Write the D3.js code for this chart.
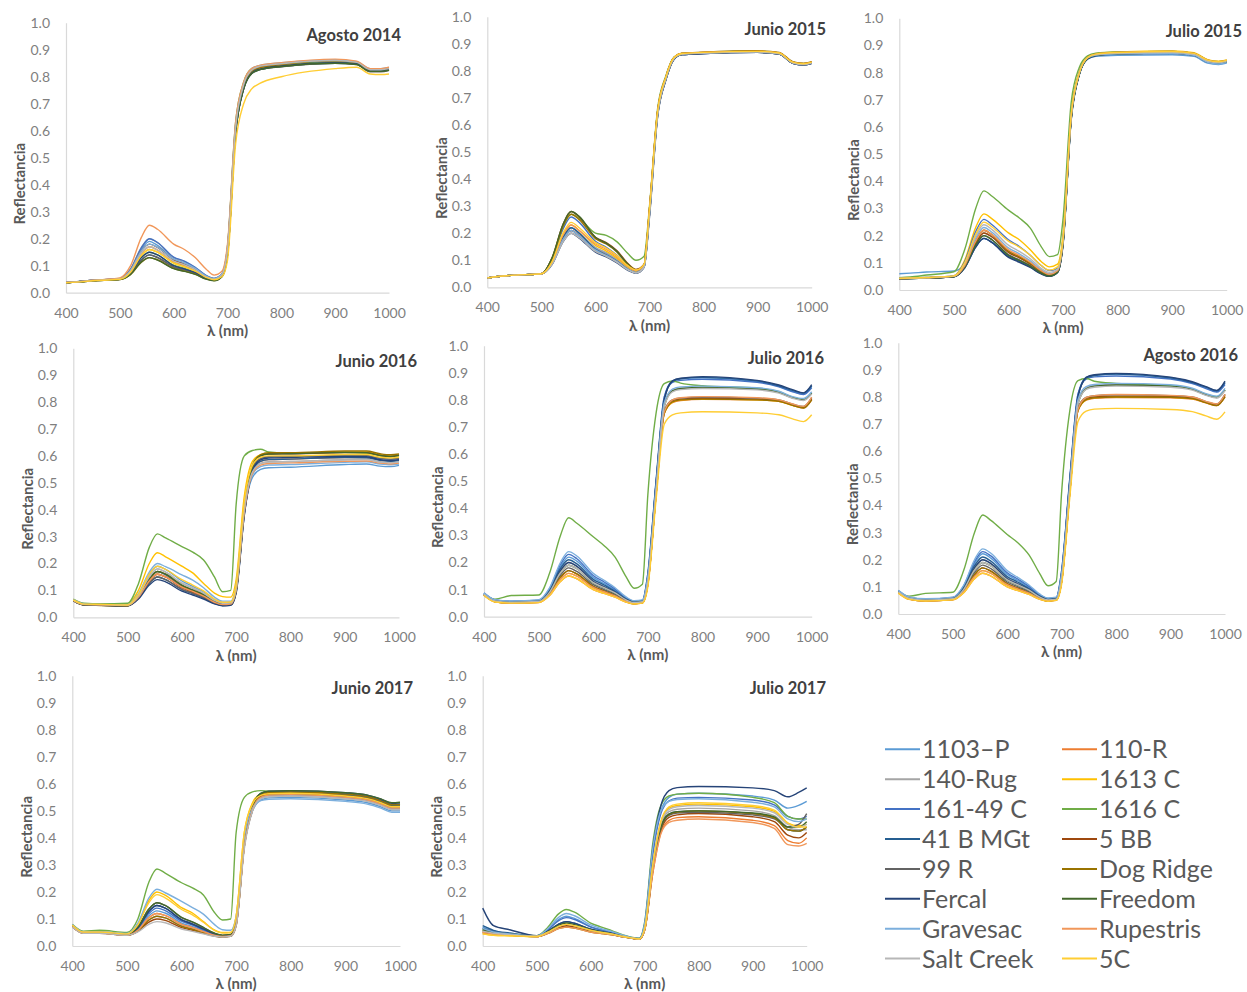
<!DOCTYPE html>
<html>
<head>
<meta charset="utf-8">
<script src="https://cdn.jsdelivr.net/npm/d3@7"></script>
<style>
  html, body { margin: 0; padding: 0; background: #ffffff; }
  svg { display: block; font-family: Lato, "Open Sans", sans-serif; }
</style>
</head>
<body>
<svg id="chart" width="1247" height="992"></svg>
<script>
// Wavelengths (nm) at which reflectance was sampled
const wavelengths = [400,420,450,500,520,540,555,570,600,620,640,660,675,690,700,715,730,745,760,800,900,940,965,985,1000];

// Rootstock varieties, in legend order
const varieties = ["1103\u2013P","110-R","140-Rug","1613 C","161-49 C","1616 C","41 B MGt","5 BB","99 R","Dog Ridge","Fercal","Freedom","Gravesac","Rupestris","Salt Creek","5C"];

const xTicks = [400,500,600,700,800,900,1000];
const yTicks = [0,0.1,0.2,0.3,0.4,0.5,0.6,0.7,0.8,0.9,1.0];

// Reflectance per variety (rows follow the varieties order)
const agosto2014 = [
  [0.038,0.04,0.046,0.052,0.085,0.16,0.19,0.175,0.125,0.11,0.09,0.062,0.052,0.07,0.16,0.61,0.77,0.825,0.838,0.848,0.86,0.853,0.825,0.826,0.83],
  [0.037,0.04,0.045,0.051,0.08,0.145,0.17,0.158,0.115,0.1,0.083,0.058,0.05,0.068,0.16,0.6,0.765,0.82,0.835,0.845,0.855,0.85,0.823,0.824,0.828],
  [0.038,0.041,0.046,0.053,0.088,0.168,0.2,0.185,0.13,0.115,0.093,0.064,0.053,0.07,0.17,0.62,0.775,0.828,0.84,0.85,0.86,0.854,0.828,0.828,0.832],
  [0.037,0.04,0.045,0.051,0.078,0.138,0.16,0.15,0.11,0.096,0.08,0.057,0.049,0.066,0.15,0.6,0.76,0.818,0.832,0.842,0.855,0.848,0.82,0.82,0.826],
  [0.038,0.041,0.046,0.052,0.087,0.166,0.2,0.186,0.132,0.117,0.094,0.064,0.053,0.07,0.16,0.61,0.77,0.825,0.838,0.847,0.858,0.852,0.826,0.827,0.83],
  [0.037,0.04,0.045,0.05,0.075,0.13,0.15,0.14,0.102,0.09,0.076,0.055,0.048,0.065,0.17,0.63,0.78,0.83,0.84,0.847,0.855,0.85,0.824,0.824,0.83],
  [0.037,0.039,0.044,0.05,0.072,0.122,0.14,0.13,0.095,0.084,0.072,0.053,0.046,0.062,0.14,0.59,0.755,0.812,0.826,0.838,0.85,0.846,0.82,0.82,0.825],
  [0.038,0.04,0.046,0.052,0.083,0.155,0.18,0.168,0.122,0.107,0.088,0.06,0.051,0.068,0.16,0.61,0.77,0.824,0.837,0.848,0.86,0.853,0.826,0.826,0.83],
  [0.037,0.039,0.044,0.05,0.071,0.12,0.14,0.131,0.096,0.085,0.073,0.053,0.046,0.062,0.14,0.59,0.755,0.812,0.826,0.837,0.85,0.845,0.818,0.818,0.824],
  [0.037,0.039,0.044,0.049,0.068,0.113,0.13,0.122,0.09,0.08,0.069,0.051,0.045,0.06,0.14,0.6,0.765,0.82,0.833,0.845,0.86,0.853,0.826,0.826,0.83],
  [0.037,0.04,0.045,0.05,0.074,0.13,0.15,0.14,0.1,0.088,0.075,0.054,0.047,0.063,0.14,0.59,0.755,0.814,0.828,0.84,0.852,0.847,0.822,0.822,0.826],
  [0.037,0.039,0.044,0.049,0.068,0.114,0.13,0.121,0.089,0.079,0.068,0.05,0.044,0.06,0.14,0.59,0.755,0.812,0.826,0.838,0.85,0.845,0.82,0.82,0.824],
  [0.038,0.04,0.046,0.052,0.083,0.155,0.18,0.168,0.124,0.11,0.09,0.062,0.052,0.07,0.17,0.62,0.775,0.83,0.842,0.852,0.862,0.856,0.83,0.83,0.834],
  [0.038,0.04,0.046,0.055,0.1,0.205,0.25,0.235,0.18,0.16,0.13,0.088,0.065,0.08,0.18,0.63,0.78,0.83,0.842,0.852,0.865,0.857,0.83,0.83,0.835],
  [0.038,0.04,0.045,0.051,0.08,0.147,0.17,0.158,0.117,0.103,0.085,0.059,0.05,0.068,0.16,0.61,0.77,0.824,0.838,0.848,0.86,0.853,0.826,0.826,0.83],
  [0.037,0.039,0.044,0.05,0.076,0.138,0.16,0.15,0.11,0.096,0.08,0.057,0.048,0.06,0.12,0.55,0.7,0.755,0.775,0.8,0.83,0.835,0.81,0.808,0.81]
];

const junio2015 = [
  [0.035,0.04,0.045,0.05,0.09,0.185,0.22,0.2,0.145,0.125,0.1,0.07,0.056,0.08,0.28,0.64,0.77,0.845,0.862,0.866,0.87,0.865,0.83,0.824,0.83],
  [0.035,0.04,0.045,0.05,0.088,0.178,0.21,0.192,0.14,0.12,0.097,0.068,0.055,0.078,0.27,0.64,0.77,0.845,0.862,0.866,0.872,0.866,0.832,0.826,0.832],
  [0.035,0.04,0.045,0.05,0.09,0.185,0.22,0.2,0.148,0.128,0.103,0.072,0.057,0.08,0.28,0.645,0.775,0.846,0.862,0.866,0.87,0.864,0.83,0.824,0.83],
  [0.035,0.04,0.045,0.05,0.092,0.192,0.23,0.21,0.155,0.134,0.108,0.075,0.06,0.082,0.29,0.65,0.775,0.848,0.864,0.868,0.872,0.866,0.832,0.826,0.832],
  [0.035,0.04,0.045,0.05,0.1,0.215,0.26,0.24,0.17,0.148,0.118,0.08,0.062,0.082,0.28,0.64,0.77,0.845,0.86,0.864,0.868,0.862,0.828,0.822,0.828],
  [0.035,0.04,0.045,0.05,0.105,0.225,0.27,0.255,0.2,0.192,0.168,0.125,0.1,0.115,0.3,0.66,0.78,0.85,0.864,0.867,0.87,0.864,0.83,0.824,0.83],
  [0.035,0.04,0.045,0.05,0.09,0.184,0.22,0.2,0.14,0.12,0.096,0.066,0.054,0.076,0.27,0.635,0.765,0.842,0.86,0.864,0.868,0.862,0.828,0.822,0.828],
  [0.035,0.04,0.045,0.05,0.11,0.232,0.28,0.26,0.185,0.165,0.135,0.088,0.066,0.085,0.29,0.65,0.775,0.848,0.864,0.868,0.872,0.866,0.832,0.826,0.832],
  [0.035,0.04,0.045,0.05,0.088,0.176,0.21,0.19,0.135,0.116,0.094,0.065,0.053,0.075,0.27,0.635,0.765,0.842,0.86,0.864,0.868,0.862,0.828,0.822,0.828],
  [0.035,0.04,0.045,0.05,0.107,0.225,0.27,0.25,0.18,0.16,0.13,0.085,0.065,0.084,0.29,0.65,0.775,0.848,0.865,0.869,0.874,0.868,0.834,0.828,0.834],
  [0.035,0.04,0.045,0.05,0.085,0.168,0.2,0.182,0.13,0.112,0.09,0.063,0.052,0.074,0.26,0.63,0.765,0.842,0.86,0.864,0.868,0.862,0.828,0.822,0.828],
  [0.035,0.04,0.045,0.05,0.11,0.232,0.28,0.262,0.185,0.163,0.132,0.085,0.063,0.082,0.28,0.645,0.77,0.846,0.862,0.866,0.87,0.864,0.83,0.824,0.83],
  [0.035,0.04,0.045,0.05,0.088,0.176,0.21,0.19,0.138,0.118,0.095,0.066,0.054,0.076,0.27,0.64,0.77,0.845,0.862,0.866,0.87,0.864,0.83,0.824,0.83],
  [0.035,0.04,0.045,0.05,0.093,0.193,0.23,0.21,0.16,0.14,0.113,0.078,0.062,0.083,0.29,0.65,0.775,0.848,0.864,0.868,0.872,0.866,0.832,0.826,0.832],
  [0.035,0.04,0.045,0.05,0.086,0.168,0.2,0.183,0.133,0.114,0.092,0.064,0.053,0.075,0.27,0.635,0.768,0.844,0.861,0.865,0.869,0.863,0.829,0.823,0.829],
  [0.035,0.04,0.045,0.05,0.095,0.2,0.24,0.22,0.165,0.145,0.117,0.08,0.064,0.085,0.29,0.65,0.775,0.848,0.864,0.868,0.872,0.866,0.832,0.826,0.832]
];

const julio2015 = [
  [0.06,0.062,0.066,0.07,0.095,0.165,0.19,0.175,0.125,0.107,0.087,0.062,0.052,0.066,0.17,0.63,0.795,0.85,0.86,0.864,0.866,0.86,0.835,0.83,0.835],
  [0.042,0.043,0.045,0.05,0.09,0.18,0.22,0.203,0.145,0.124,0.1,0.07,0.057,0.07,0.18,0.64,0.8,0.855,0.866,0.872,0.875,0.868,0.843,0.838,0.843],
  [0.042,0.043,0.045,0.05,0.088,0.172,0.21,0.195,0.14,0.12,0.097,0.068,0.056,0.07,0.18,0.64,0.8,0.855,0.866,0.871,0.874,0.867,0.842,0.837,0.842],
  [0.043,0.044,0.046,0.052,0.11,0.23,0.28,0.262,0.21,0.185,0.148,0.105,0.085,0.095,0.2,0.65,0.805,0.858,0.87,0.876,0.88,0.873,0.848,0.842,0.847],
  [0.043,0.044,0.046,0.052,0.105,0.215,0.26,0.24,0.185,0.16,0.128,0.09,0.072,0.08,0.19,0.645,0.8,0.855,0.868,0.873,0.876,0.869,0.844,0.838,0.843],
  [0.045,0.048,0.055,0.067,0.15,0.3,0.365,0.345,0.294,0.265,0.228,0.16,0.123,0.13,0.26,0.69,0.82,0.862,0.872,0.876,0.878,0.871,0.846,0.84,0.845],
  [0.041,0.042,0.044,0.049,0.082,0.158,0.19,0.175,0.123,0.105,0.085,0.06,0.05,0.064,0.17,0.63,0.795,0.852,0.864,0.869,0.872,0.865,0.84,0.835,0.84],
  [0.042,0.043,0.045,0.05,0.088,0.172,0.21,0.195,0.138,0.118,0.095,0.066,0.055,0.068,0.175,0.635,0.798,0.853,0.865,0.87,0.873,0.866,0.841,0.836,0.841],
  [0.041,0.042,0.044,0.049,0.085,0.165,0.2,0.184,0.13,0.111,0.09,0.063,0.052,0.066,0.17,0.63,0.795,0.852,0.864,0.869,0.872,0.865,0.84,0.835,0.84],
  [0.042,0.043,0.045,0.05,0.09,0.18,0.22,0.203,0.143,0.122,0.099,0.069,0.056,0.07,0.18,0.64,0.8,0.856,0.868,0.874,0.878,0.871,0.846,0.84,0.845],
  [0.041,0.042,0.044,0.049,0.082,0.158,0.19,0.174,0.12,0.102,0.083,0.059,0.05,0.064,0.165,0.625,0.793,0.85,0.862,0.868,0.871,0.864,0.839,0.834,0.839],
  [0.041,0.042,0.044,0.049,0.085,0.166,0.2,0.185,0.128,0.109,0.088,0.062,0.051,0.065,0.17,0.63,0.795,0.852,0.864,0.869,0.872,0.865,0.84,0.835,0.84],
  [0.043,0.044,0.046,0.051,0.095,0.19,0.23,0.212,0.155,0.133,0.107,0.075,0.06,0.073,0.18,0.64,0.8,0.854,0.865,0.869,0.871,0.864,0.838,0.832,0.837],
  [0.042,0.043,0.045,0.05,0.09,0.18,0.22,0.204,0.148,0.127,0.102,0.071,0.058,0.071,0.18,0.64,0.8,0.856,0.868,0.874,0.878,0.871,0.846,0.84,0.845],
  [0.042,0.043,0.045,0.051,0.098,0.198,0.24,0.222,0.165,0.142,0.115,0.08,0.065,0.076,0.185,0.64,0.8,0.855,0.866,0.871,0.874,0.867,0.842,0.837,0.842],
  [0.043,0.044,0.046,0.052,0.1,0.205,0.25,0.232,0.18,0.158,0.128,0.09,0.073,0.085,0.19,0.645,0.8,0.856,0.868,0.874,0.878,0.871,0.846,0.84,0.845]
];

const junio2016 = [
  [0.065,0.05,0.048,0.047,0.085,0.16,0.19,0.178,0.135,0.115,0.095,0.066,0.054,0.055,0.11,0.39,0.52,0.55,0.556,0.558,0.568,0.57,0.562,0.56,0.565],
  [0.062,0.047,0.046,0.044,0.074,0.135,0.16,0.15,0.11,0.094,0.077,0.055,0.046,0.048,0.1,0.39,0.54,0.58,0.586,0.588,0.594,0.594,0.585,0.582,0.585],
  [0.064,0.048,0.047,0.045,0.08,0.15,0.18,0.168,0.126,0.108,0.088,0.062,0.051,0.052,0.105,0.4,0.54,0.572,0.578,0.579,0.586,0.587,0.578,0.575,0.578],
  [0.066,0.05,0.05,0.05,0.1,0.2,0.24,0.225,0.19,0.165,0.126,0.09,0.077,0.075,0.14,0.45,0.58,0.605,0.61,0.61,0.615,0.615,0.605,0.6,0.603],
  [0.063,0.048,0.046,0.045,0.077,0.143,0.17,0.158,0.116,0.099,0.081,0.057,0.048,0.05,0.1,0.39,0.55,0.59,0.597,0.598,0.602,0.6,0.59,0.587,0.59],
  [0.068,0.052,0.05,0.052,0.125,0.26,0.31,0.295,0.263,0.242,0.213,0.15,0.095,0.1,0.42,0.6,0.62,0.625,0.615,0.61,0.612,0.61,0.6,0.597,0.6],
  [0.062,0.046,0.045,0.044,0.071,0.127,0.15,0.14,0.103,0.088,0.072,0.052,0.044,0.046,0.095,0.38,0.54,0.58,0.586,0.588,0.594,0.593,0.584,0.58,0.584],
  [0.062,0.046,0.045,0.043,0.073,0.135,0.16,0.15,0.11,0.094,0.077,0.055,0.046,0.047,0.1,0.4,0.56,0.6,0.607,0.608,0.612,0.612,0.602,0.598,0.602],
  [0.062,0.046,0.045,0.043,0.071,0.127,0.15,0.14,0.104,0.089,0.073,0.052,0.044,0.046,0.095,0.385,0.548,0.59,0.597,0.598,0.603,0.602,0.592,0.588,0.592],
  [0.063,0.046,0.044,0.042,0.076,0.143,0.17,0.16,0.118,0.1,0.082,0.058,0.048,0.049,0.1,0.4,0.565,0.605,0.612,0.612,0.618,0.618,0.608,0.604,0.607],
  [0.062,0.046,0.045,0.043,0.068,0.12,0.14,0.132,0.097,0.083,0.068,0.05,0.043,0.045,0.09,0.38,0.545,0.585,0.592,0.594,0.598,0.597,0.586,0.582,0.586],
  [0.063,0.047,0.046,0.044,0.076,0.143,0.17,0.16,0.12,0.102,0.084,0.06,0.049,0.05,0.1,0.4,0.56,0.6,0.607,0.608,0.613,0.612,0.602,0.598,0.602],
  [0.066,0.05,0.048,0.047,0.088,0.168,0.2,0.188,0.158,0.138,0.11,0.075,0.06,0.06,0.12,0.41,0.53,0.56,0.566,0.568,0.576,0.578,0.57,0.567,0.57],
  [0.063,0.047,0.046,0.044,0.074,0.135,0.16,0.15,0.112,0.096,0.079,0.056,0.047,0.049,0.1,0.39,0.535,0.566,0.572,0.574,0.58,0.581,0.573,0.57,0.573],
  [0.064,0.048,0.047,0.045,0.08,0.15,0.18,0.168,0.128,0.11,0.09,0.063,0.052,0.053,0.105,0.4,0.54,0.571,0.577,0.579,0.585,0.586,0.577,0.574,0.577],
  [0.065,0.049,0.048,0.046,0.084,0.16,0.19,0.178,0.14,0.12,0.098,0.068,0.056,0.057,0.12,0.43,0.565,0.595,0.6,0.6,0.605,0.605,0.595,0.592,0.595]
];

const julio2016 = [
  [0.086,0.062,0.056,0.06,0.1,0.185,0.22,0.205,0.145,0.122,0.098,0.068,0.056,0.06,0.16,0.5,0.81,0.87,0.878,0.882,0.868,0.85,0.832,0.822,0.85],
  [0.08,0.055,0.05,0.052,0.078,0.13,0.15,0.14,0.1,0.086,0.072,0.054,0.047,0.05,0.12,0.45,0.75,0.79,0.798,0.802,0.8,0.795,0.78,0.77,0.8],
  [0.084,0.058,0.054,0.057,0.094,0.17,0.2,0.186,0.132,0.112,0.092,0.064,0.054,0.057,0.14,0.47,0.78,0.835,0.843,0.846,0.84,0.828,0.808,0.8,0.825],
  [0.08,0.055,0.05,0.053,0.082,0.138,0.16,0.15,0.106,0.09,0.075,0.056,0.048,0.051,0.12,0.45,0.75,0.792,0.8,0.803,0.8,0.795,0.78,0.772,0.805],
  [0.087,0.062,0.057,0.061,0.103,0.193,0.23,0.214,0.152,0.128,0.102,0.07,0.057,0.06,0.16,0.5,0.81,0.865,0.872,0.876,0.865,0.848,0.83,0.82,0.845],
  [0.08,0.065,0.078,0.08,0.16,0.3,0.365,0.345,0.295,0.262,0.22,0.148,0.105,0.12,0.45,0.75,0.86,0.87,0.862,0.852,0.843,0.83,0.81,0.802,0.825],
  [0.086,0.061,0.055,0.059,0.097,0.178,0.21,0.195,0.138,0.117,0.094,0.066,0.055,0.058,0.15,0.49,0.8,0.868,0.878,0.883,0.87,0.852,0.835,0.825,0.852],
  [0.081,0.056,0.051,0.054,0.085,0.145,0.17,0.158,0.112,0.095,0.078,0.057,0.049,0.052,0.12,0.45,0.755,0.797,0.803,0.806,0.803,0.797,0.782,0.773,0.805],
  [0.082,0.057,0.052,0.055,0.088,0.153,0.18,0.167,0.118,0.1,0.082,0.059,0.05,0.053,0.125,0.455,0.76,0.8,0.807,0.81,0.806,0.8,0.784,0.776,0.808],
  [0.08,0.055,0.05,0.053,0.085,0.145,0.17,0.158,0.111,0.094,0.077,0.056,0.048,0.051,0.12,0.45,0.75,0.793,0.8,0.803,0.8,0.795,0.78,0.77,0.8],
  [0.085,0.06,0.055,0.058,0.092,0.17,0.2,0.186,0.13,0.11,0.09,0.063,0.053,0.057,0.15,0.49,0.8,0.87,0.88,0.886,0.872,0.855,0.838,0.826,0.856],
  [0.083,0.058,0.053,0.056,0.09,0.162,0.19,0.177,0.125,0.106,0.087,0.061,0.052,0.055,0.13,0.46,0.775,0.833,0.842,0.846,0.84,0.828,0.808,0.8,0.825],
  [0.088,0.063,0.058,0.062,0.106,0.2,0.24,0.224,0.16,0.134,0.107,0.073,0.059,0.062,0.15,0.48,0.79,0.84,0.848,0.851,0.845,0.832,0.812,0.805,0.83],
  [0.08,0.055,0.05,0.053,0.082,0.138,0.16,0.15,0.108,0.092,0.077,0.057,0.049,0.052,0.12,0.45,0.755,0.8,0.808,0.812,0.808,0.8,0.785,0.776,0.81],
  [0.083,0.058,0.053,0.056,0.09,0.162,0.19,0.177,0.126,0.107,0.088,0.062,0.052,0.055,0.13,0.46,0.775,0.83,0.838,0.842,0.837,0.825,0.806,0.798,0.822],
  [0.078,0.054,0.05,0.052,0.078,0.13,0.15,0.14,0.1,0.086,0.072,0.054,0.047,0.05,0.11,0.43,0.71,0.745,0.752,0.756,0.752,0.745,0.73,0.72,0.745]
];

const agosto2016 = [
  [0.084,0.06,0.052,0.06,0.1,0.186,0.222,0.206,0.146,0.123,0.099,0.068,0.056,0.06,0.16,0.5,0.81,0.872,0.88,0.884,0.87,0.852,0.834,0.82,0.852],
  [0.078,0.054,0.048,0.052,0.078,0.13,0.15,0.14,0.1,0.086,0.072,0.054,0.047,0.05,0.12,0.45,0.75,0.788,0.795,0.798,0.797,0.792,0.778,0.768,0.8],
  [0.083,0.058,0.052,0.057,0.094,0.17,0.2,0.186,0.132,0.112,0.092,0.064,0.054,0.057,0.14,0.47,0.78,0.833,0.842,0.845,0.84,0.828,0.808,0.798,0.826],
  [0.079,0.055,0.049,0.053,0.082,0.138,0.16,0.15,0.106,0.09,0.075,0.056,0.048,0.051,0.12,0.45,0.75,0.79,0.798,0.8,0.799,0.794,0.779,0.77,0.806],
  [0.086,0.062,0.055,0.061,0.103,0.193,0.23,0.214,0.152,0.128,0.102,0.07,0.057,0.06,0.16,0.5,0.81,0.866,0.874,0.877,0.866,0.849,0.831,0.818,0.846],
  [0.08,0.066,0.076,0.08,0.16,0.3,0.365,0.345,0.293,0.262,0.218,0.148,0.104,0.12,0.45,0.75,0.86,0.868,0.858,0.85,0.842,0.83,0.81,0.8,0.826],
  [0.085,0.06,0.053,0.059,0.097,0.178,0.21,0.195,0.138,0.117,0.094,0.066,0.055,0.058,0.15,0.49,0.8,0.87,0.879,0.884,0.871,0.853,0.836,0.823,0.854],
  [0.08,0.056,0.049,0.054,0.085,0.145,0.17,0.158,0.112,0.095,0.078,0.057,0.049,0.052,0.12,0.45,0.755,0.795,0.8,0.803,0.802,0.796,0.78,0.771,0.806],
  [0.081,0.057,0.05,0.055,0.088,0.153,0.18,0.167,0.118,0.1,0.082,0.059,0.05,0.053,0.125,0.455,0.76,0.798,0.805,0.808,0.805,0.8,0.783,0.774,0.81],
  [0.079,0.055,0.048,0.053,0.085,0.145,0.17,0.158,0.111,0.094,0.077,0.056,0.048,0.051,0.12,0.45,0.75,0.79,0.797,0.8,0.799,0.794,0.779,0.768,0.8],
  [0.084,0.06,0.053,0.058,0.092,0.17,0.2,0.186,0.13,0.11,0.09,0.063,0.053,0.057,0.15,0.49,0.8,0.872,0.882,0.887,0.873,0.856,0.838,0.824,0.858],
  [0.082,0.058,0.051,0.056,0.09,0.162,0.19,0.177,0.125,0.106,0.087,0.061,0.052,0.055,0.13,0.46,0.775,0.83,0.84,0.844,0.84,0.828,0.808,0.798,0.826],
  [0.087,0.063,0.056,0.062,0.106,0.2,0.24,0.224,0.16,0.134,0.107,0.073,0.059,0.062,0.15,0.48,0.79,0.838,0.846,0.85,0.845,0.832,0.812,0.803,0.832],
  [0.079,0.055,0.048,0.053,0.082,0.138,0.16,0.15,0.108,0.092,0.077,0.057,0.049,0.052,0.12,0.45,0.755,0.798,0.805,0.809,0.806,0.8,0.784,0.774,0.81],
  [0.082,0.058,0.051,0.056,0.09,0.162,0.19,0.177,0.126,0.107,0.088,0.062,0.052,0.055,0.13,0.46,0.775,0.828,0.836,0.84,0.836,0.825,0.806,0.796,0.823],
  [0.077,0.054,0.048,0.052,0.078,0.13,0.15,0.14,0.1,0.086,0.072,0.054,0.047,0.05,0.11,0.43,0.71,0.748,0.755,0.758,0.754,0.746,0.73,0.718,0.745]
];

const junio2017 = [
  [0.075,0.05,0.05,0.042,0.062,0.112,0.13,0.122,0.085,0.072,0.056,0.041,0.036,0.04,0.09,0.38,0.5,0.54,0.548,0.55,0.54,0.53,0.515,0.5,0.5],
  [0.072,0.048,0.048,0.04,0.058,0.104,0.12,0.113,0.08,0.068,0.053,0.04,0.035,0.038,0.08,0.37,0.505,0.55,0.558,0.56,0.55,0.54,0.525,0.508,0.51],
  [0.072,0.048,0.048,0.04,0.056,0.096,0.11,0.104,0.074,0.063,0.05,0.038,0.034,0.037,0.08,0.37,0.5,0.545,0.553,0.555,0.545,0.535,0.52,0.505,0.505],
  [0.078,0.052,0.052,0.045,0.08,0.168,0.2,0.188,0.142,0.122,0.09,0.06,0.05,0.05,0.11,0.42,0.53,0.563,0.568,0.57,0.56,0.55,0.535,0.52,0.52],
  [0.075,0.05,0.05,0.042,0.065,0.12,0.14,0.131,0.092,0.077,0.06,0.043,0.037,0.04,0.085,0.38,0.505,0.55,0.558,0.56,0.55,0.54,0.525,0.51,0.51],
  [0.08,0.055,0.058,0.05,0.1,0.235,0.285,0.27,0.234,0.215,0.189,0.125,0.096,0.1,0.42,0.55,0.57,0.575,0.572,0.57,0.56,0.55,0.535,0.52,0.525],
  [0.075,0.05,0.05,0.042,0.067,0.128,0.15,0.14,0.098,0.082,0.064,0.045,0.038,0.041,0.09,0.39,0.51,0.555,0.563,0.565,0.557,0.548,0.533,0.518,0.518],
  [0.07,0.047,0.047,0.04,0.054,0.088,0.1,0.095,0.068,0.058,0.047,0.037,0.033,0.036,0.075,0.37,0.505,0.555,0.563,0.565,0.555,0.545,0.53,0.515,0.515],
  [0.076,0.05,0.05,0.043,0.07,0.136,0.16,0.15,0.105,0.088,0.068,0.047,0.039,0.042,0.09,0.39,0.515,0.56,0.568,0.57,0.562,0.553,0.538,0.524,0.525],
  [0.072,0.048,0.048,0.04,0.056,0.096,0.11,0.104,0.073,0.062,0.05,0.038,0.034,0.037,0.078,0.37,0.51,0.56,0.568,0.57,0.562,0.552,0.538,0.522,0.523],
  [0.075,0.05,0.05,0.042,0.067,0.128,0.15,0.14,0.097,0.081,0.063,0.045,0.038,0.041,0.088,0.385,0.515,0.565,0.573,0.575,0.567,0.558,0.543,0.528,0.53],
  [0.076,0.05,0.05,0.043,0.07,0.136,0.16,0.15,0.106,0.089,0.069,0.048,0.04,0.043,0.09,0.39,0.515,0.565,0.573,0.575,0.567,0.558,0.544,0.53,0.532],
  [0.08,0.053,0.053,0.046,0.085,0.177,0.21,0.197,0.165,0.142,0.118,0.08,0.06,0.058,0.11,0.4,0.51,0.538,0.543,0.545,0.535,0.525,0.51,0.495,0.495],
  [0.072,0.048,0.048,0.04,0.058,0.104,0.12,0.113,0.08,0.068,0.053,0.04,0.035,0.038,0.08,0.37,0.505,0.55,0.558,0.56,0.55,0.54,0.525,0.51,0.51],
  [0.07,0.047,0.047,0.04,0.052,0.08,0.09,0.086,0.063,0.054,0.045,0.036,0.033,0.036,0.075,0.36,0.5,0.545,0.553,0.555,0.545,0.535,0.52,0.505,0.505],
  [0.078,0.052,0.052,0.045,0.078,0.16,0.19,0.178,0.135,0.115,0.088,0.058,0.048,0.05,0.11,0.42,0.525,0.557,0.563,0.565,0.555,0.545,0.53,0.515,0.515]
];

const julio2017 = [
  [0.07,0.055,0.045,0.037,0.06,0.097,0.11,0.102,0.072,0.06,0.05,0.038,0.032,0.028,0.08,0.35,0.5,0.55,0.562,0.565,0.555,0.54,0.51,0.52,0.535],
  [0.05,0.045,0.04,0.035,0.048,0.068,0.075,0.071,0.055,0.048,0.042,0.034,0.029,0.025,0.06,0.27,0.42,0.465,0.475,0.478,0.465,0.445,0.39,0.38,0.4],
  [0.06,0.05,0.044,0.036,0.052,0.076,0.085,0.079,0.06,0.051,0.045,0.036,0.03,0.026,0.065,0.29,0.45,0.497,0.506,0.51,0.5,0.482,0.44,0.43,0.43],
  [0.045,0.04,0.038,0.035,0.05,0.072,0.08,0.075,0.058,0.05,0.044,0.035,0.03,0.026,0.065,0.3,0.46,0.51,0.52,0.525,0.515,0.498,0.455,0.445,0.45],
  [0.065,0.055,0.045,0.037,0.058,0.093,0.105,0.098,0.07,0.058,0.049,0.038,0.031,0.027,0.075,0.34,0.49,0.537,0.547,0.55,0.54,0.522,0.48,0.47,0.48],
  [0.06,0.05,0.045,0.038,0.068,0.118,0.135,0.125,0.085,0.07,0.056,0.041,0.033,0.029,0.09,0.38,0.52,0.555,0.562,0.565,0.55,0.53,0.48,0.47,0.47],
  [0.075,0.058,0.048,0.037,0.054,0.08,0.09,0.084,0.062,0.053,0.046,0.036,0.03,0.026,0.065,0.29,0.44,0.488,0.497,0.5,0.49,0.475,0.43,0.425,0.44],
  [0.055,0.047,0.042,0.035,0.048,0.068,0.075,0.071,0.055,0.048,0.042,0.034,0.029,0.025,0.06,0.28,0.43,0.476,0.485,0.49,0.478,0.46,0.41,0.4,0.42],
  [0.065,0.052,0.045,0.036,0.05,0.072,0.08,0.075,0.058,0.05,0.044,0.035,0.03,0.026,0.063,0.285,0.435,0.483,0.492,0.495,0.485,0.47,0.44,0.45,0.49],
  [0.05,0.045,0.04,0.035,0.046,0.064,0.07,0.066,0.052,0.046,0.041,0.034,0.029,0.025,0.06,0.28,0.44,0.487,0.496,0.5,0.49,0.474,0.43,0.425,0.44],
  [0.14,0.075,0.06,0.038,0.054,0.08,0.09,0.084,0.062,0.053,0.046,0.036,0.03,0.027,0.08,0.36,0.52,0.575,0.586,0.59,0.585,0.575,0.552,0.568,0.585],
  [0.06,0.05,0.044,0.036,0.052,0.076,0.085,0.079,0.06,0.052,0.045,0.036,0.03,0.026,0.065,0.29,0.44,0.488,0.497,0.5,0.492,0.478,0.44,0.44,0.46],
  [0.065,0.052,0.045,0.037,0.063,0.105,0.12,0.112,0.078,0.064,0.053,0.04,0.032,0.028,0.085,0.36,0.5,0.535,0.542,0.545,0.532,0.515,0.47,0.46,0.47],
  [0.05,0.045,0.04,0.035,0.046,0.064,0.07,0.066,0.052,0.046,0.041,0.034,0.029,0.025,0.058,0.27,0.415,0.457,0.465,0.47,0.457,0.435,0.375,0.37,0.38],
  [0.055,0.047,0.042,0.035,0.05,0.072,0.08,0.075,0.058,0.05,0.044,0.035,0.03,0.026,0.065,0.3,0.455,0.505,0.515,0.52,0.51,0.493,0.45,0.44,0.45],
  [0.045,0.04,0.038,0.035,0.05,0.072,0.08,0.075,0.058,0.05,0.044,0.035,0.03,0.026,0.065,0.3,0.46,0.515,0.525,0.53,0.52,0.503,0.455,0.44,0.44]
];

// Series colours (Office palette, one per variety)
const varietyColors = ["#5B9BD5","#ED7D31","#A5A5A5","#FFC000","#4472C4","#70AD47","#255E91","#9E480E","#636363","#997300","#264478","#43682B","#7CAFDD","#F1975A","#B7B7B7","#FFCD33"];

// Plot frames: left/right x of the wavelength axis, y of 1.0 and 0.0, right edge of the title
const panels = [
  { title: "Agosto 2014", rows: agosto2014, left: 66,    right: 389,    top: 22.7,  bottom: 292.7, titleEnd: 401 },
  { title: "Junio 2015",  rows: junio2015,  left: 487.3, right: 811.7,  top: 16.7,  bottom: 287.3, titleEnd: 826 },
  { title: "Julio 2015",  rows: julio2015,  left: 899.3, right: 1226.7, top: 18.3,  bottom: 290,   titleEnd: 1242 },
  { title: "Junio 2016",  rows: junio2016,  left: 73.3,  right: 399,    top: 348.3, bottom: 617.3, titleEnd: 417 },
  { title: "Julio 2016",  rows: julio2016,  left: 484,   right: 811.7,  top: 345.7, bottom: 616.7, titleEnd: 824 },
  { title: "Agosto 2016", rows: agosto2016, left: 898.3, right: 1225,   top: 342.7, bottom: 614,   titleEnd: 1238 },
  { title: "Junio 2017",  rows: junio2017,  left: 72.3,  right: 400,    top: 675.7, bottom: 946,   titleEnd: 413 },
  { title: "Julio 2017",  rows: julio2017,  left: 482.7, right: 806.7,  top: 675.7, bottom: 946,   titleEnd: 826 }
];

const svg = d3.select("#chart");
const axisColor = "#d9d9d9";
const tickColor = "#7f7f7f";
const titleColor = "#404040";
const axisTitleColor = "#595959";

panels.forEach(p => {
  const x = d3.scaleLinear().domain([400, 1000]).range([p.left, p.right]);
  const y = d3.scaleLinear().domain([0, 1]).range([p.bottom, p.top]);
  const g = svg.append("g");

  // x axis
  const gx = g.append("g")
    .attr("transform", `translate(0,${p.bottom})`)
    .call(d3.axisBottom(x).tickValues(xTicks).tickSize(0).tickPadding(15).tickFormat(d3.format("d")));
  gx.select(".domain").attr("stroke", axisColor).attr("stroke-width", 1.2);
  gx.selectAll("text").attr("fill", tickColor).attr("font-size", 14).attr("font-family", "Lato, sans-serif");

  // y axis
  const gy = g.append("g")
    .attr("transform", `translate(${p.left},0)`)
    .call(d3.axisLeft(y).tickValues(yTicks).tickSize(0).tickPadding(16).tickFormat(d3.format(".1f")));
  gy.select(".domain").attr("stroke", axisColor).attr("stroke-width", 1.2);
  gy.selectAll("text").attr("fill", tickColor).attr("font-size", 14).attr("font-family", "Lato, sans-serif");

  // reflectance curves
  const line = d3.line()
    .x((d, i) => x(wavelengths[i]))
    .y(d => y(d))
    .curve(d3.curveMonotoneX);

  g.append("g").selectAll("path")
    .data(p.rows)
    .join("path")
    .attr("d", line)
    .attr("fill", "none")
    .attr("stroke", (d, i) => varietyColors[i])
    .attr("stroke-width", 1.4)
    .attr("stroke-linejoin", "round");

  // panel title
  g.append("text")
    .attr("x", p.titleEnd)
    .attr("y", p.top + 12.5)
    .attr("dy", "0.35em")
    .attr("text-anchor", "end")
    .attr("font-size", 16.5)
    .attr("font-weight", 700)
    .attr("fill", titleColor)
    .text(p.title);

  // axis titles
  g.append("text")
    .attr("x", (p.left + p.right) / 2)
    .attr("y", p.bottom + 38)
    .attr("dy", "0.35em")
    .attr("text-anchor", "middle")
    .attr("font-size", 15)
    .attr("font-weight", 700)
    .attr("fill", axisTitleColor)
    .text("\u03bb (nm)");

  g.append("text")
    .attr("transform", `translate(${p.left - 46},${(p.top + p.bottom) / 2 + 26}) rotate(-90)`)
    .attr("dy", "0.35em")
    .attr("text-anchor", "middle")
    .attr("font-size", 15)
    .attr("font-weight", 700)
    .attr("fill", axisTitleColor)
    .text("Reflectancia");
});

// Legend: two columns of eight entries
const legend = svg.append("g");
const legendCols = [885, 1062];
const legendRowY = d3.scaleLinear().domain([0, 7]).range([749.3, 958.6]);
varieties.forEach((name, i) => {
  const col = i % 2, row = Math.floor(i / 2);
  const lx = legendCols[col], ly = legendRowY(row);
  legend.append("line")
    .attr("x1", lx).attr("x2", lx + 35)
    .attr("y1", ly).attr("y2", ly)
    .attr("stroke", varietyColors[i])
    .attr("stroke-width", 2);
  legend.append("text")
    .attr("x", lx + 37)
    .attr("y", ly)
    .attr("dy", "0.36em")
    .attr("font-size", 25)
    .attr("fill", "#595959")
    .text(name);
});
</script>
</body>
</html>
